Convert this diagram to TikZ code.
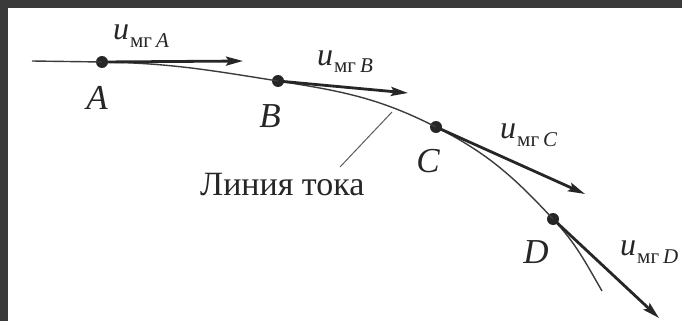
\documentclass[tikz,border=0pt]{standalone}
\usepackage{fontspec}
\setmainfont{Liberation Serif}
\usetikzlibrary{arrows.meta}
\definecolor{frame}{HTML}{3A3A3A}
\definecolor{ink}{HTML}{262626}
\tikzset{
  streamline/.style={draw=ink!90, line width=1.4pt},
  vel/.style={draw=ink, line width=2.8pt, -{Stealth[length=17pt,width=9pt,inset=3pt]}},
  pt/.style={circle, fill=ink, inner sep=0pt, minimum size=12pt},
  ptlab/.style={font=\fontsize{35}{35}\selectfont\itshape, text=ink, inner sep=0pt},
  ulab/.style={anchor=base west, inner sep=0pt, text=ink},
  leader/.style={draw=ink!75, line width=1pt},
}
\newcommand{\ulabel}[1]{\fontsize{32}{32}\selectfont\textit{u}\kern1pt\raisebox{-8pt}{\fontsize{21}{21}\selectfont мг\kern4pt\textit{#1}}}
\begin{document}
\begin{tikzpicture}[x=1pt,y=1pt]
\useasboundingbox (0,0) rectangle (682,-321);
\fill[white] (0,0) rectangle (682,-321);
\fill[frame] (0,0) rectangle (682,-8);
\fill[frame] (0,0) rectangle (8,-321);

% points
\coordinate (S) at (32,-61);
\coordinate (E) at (602,-291);
\node[pt] (A) at (102,-62) {};
\node[pt] (B) at (278,-81) {};
\node[pt] (C) at (436,-127) {};
\node[pt] (D) at (553,-219) {};

% streamline
\draw[streamline] (S) -- (A.center)
  to[out=-1,in=171] (B.center)
  to[out=-9,in=153] (C.center)
  to[out=-27,in=133] (D.center)
  to[out=-47,in=120] (E);

% velocity arrows
\coordinate (At) at (243,-61);
\coordinate (Bt) at (408,-93);
\coordinate (Ct) at (585,-194);
\coordinate (Dt) at (659,-318);
\draw[vel] (A.center) -- (At);
\draw[vel] (B.center) -- (Bt);
\draw[vel] (C.center) -- (Ct);
\draw[vel] (D.center) -- (Dt);

% point labels
\node[ptlab] (lA) at (97,-98) {A};
\node[ptlab] (lB) at (270,-116) {B};
\node[ptlab] (lC) at (428,-161) {C};
\node[ptlab] (lD) at (536,-252) {D};

% velocity labels
\node[ulab] (uA) at (113,-40) {\ulabel{A}};
\node[ulab] (uB) at (317,-65) {\ulabel{B}};
\node[ulab] (uC) at (500,-138) {\ulabel{C}};
\node[ulab] (uD) at (620,-255) {\ulabel{D}};

% streamline label
\node[anchor=base west, inner sep=0pt, text=ink, font=\fontsize{34}{34}\selectfont] (txt) at (200,-195) {Линия тока};
\coordinate (Lc) at (392,-112);
\coordinate (Le) at (340,-167);
\draw[leader] (Lc) -- (Le);
\end{tikzpicture}
\end{document}
